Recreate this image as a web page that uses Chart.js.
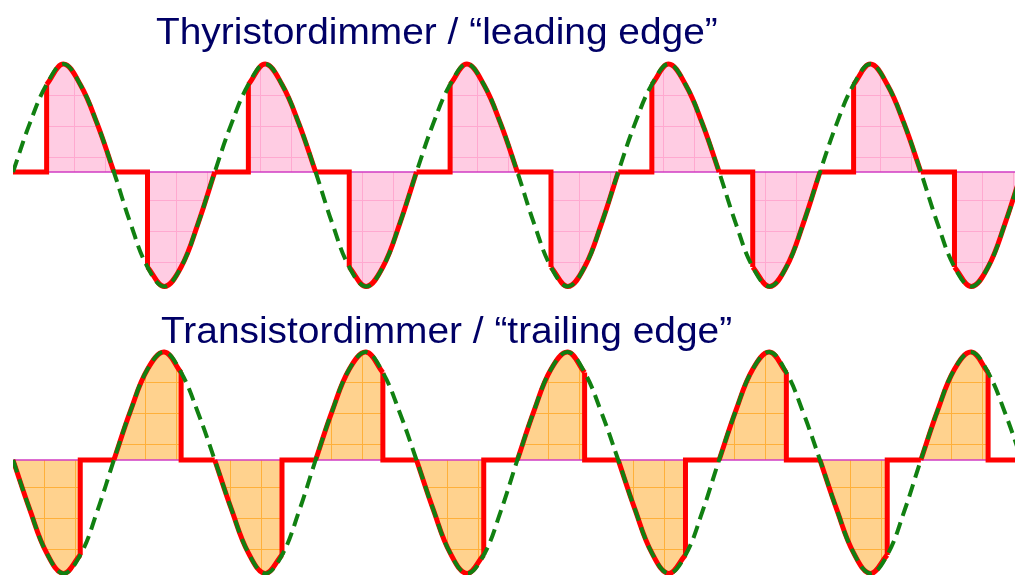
<!DOCTYPE html>
<html>
<head>
<meta charset="utf-8">
<script src="https://cdn.jsdelivr.net/npm/chart.js@4.4.1/dist/chart.umd.min.js"></script>
<style>
  body { margin: 0; background: #fff; }
  #wrap { position: relative; width: 1015px; height: 575px; overflow: hidden; }
  canvas { position: absolute; left: 0; }
  .title {
    position: absolute; margin: 0; white-space: pre;
    font-family: "Liberation Sans", Arial, sans-serif;
    font-size: 36px; line-height: 36px; color: #000066;
    transform: scaleX(1.08); transform-origin: 0 0;
  }
</style>
</head>
<body>
<div id="wrap">
  <canvas id="top" width="1015" height="300" style="top:0"></canvas>
  <canvas id="bottom" width="1015" height="275" style="top:300px"></canvas>
  <div class="title" style="left:156px; top:14px">Thyristordimmer / “leading edge”</div>
  <div class="title" style="left:161px; top:313px">Transistordimmer / “trailing edge”</div>
</div>
<script>
// phase angle in degrees (x axis)
const angles = [
  0, 30, 60, 90, 120, 150, 180, 210, 240, 270, 300, 330,
  360, 390, 420, 450, 480, 510, 540, 570, 600, 630, 660, 690,
  720, 750, 780, 810, 840, 870, 900, 930, 960, 990, 1020, 1050,
  1080, 1110, 1140, 1170, 1200, 1230, 1260, 1290, 1320, 1350, 1380, 1410,
  1440, 1470, 1500, 1530, 1560, 1590, 1620, 1650, 1680, 1710, 1740, 1770,
  1800
];

// mains voltage as drawn, top panel
const topWave = [
  0, 0.45, 0.81, 1.00, 0.81, 0.45, 0, -0.48, -0.88, -1.06, -0.88, -0.48,
  0, 0.45, 0.81, 1.00, 0.81, 0.45, 0, -0.48, -0.88, -1.06, -0.88, -0.48,
  0, 0.45, 0.81, 1.00, 0.81, 0.45, 0, -0.48, -0.88, -1.06, -0.88, -0.48,
  0, 0.45, 0.81, 1.00, 0.81, 0.45, 0, -0.48, -0.88, -1.06, -0.88, -0.48,
  0, 0.45, 0.81, 1.00, 0.81, 0.45, 0, -0.48, -0.88, -1.06, -0.88, -0.48,
  0
];

// mains voltage as drawn, bottom panel
const bottomWave = [
  0, -0.46, -0.86, -1.05, -0.88, -0.48, 0, 0.46, 0.84, 1.00, 0.81, 0.44,
  0, -0.46, -0.86, -1.05, -0.88, -0.48, 0, 0.46, 0.84, 1.00, 0.81, 0.44,
  0, -0.46, -0.86, -1.05, -0.88, -0.48, 0, 0.46, 0.84, 1.00, 0.81, 0.44,
  0, -0.46, -0.86, -1.05, -0.88, -0.48, 0, 0.46, 0.84, 1.00, 0.81, 0.44,
  0, -0.46, -0.86, -1.05, -0.88, -0.48, 0, 0.46, 0.84, 1.00, 0.81, 0.44,
  0
];

// conduction windows [on, off] in degrees
const leadingLobes = [
  [60, 180], [240, 360], [420, 540], [600, 720], [780, 900],
  [960, 1080], [1140, 1260], [1320, 1440], [1500, 1620], [1680, 1800]
];
const trailingLobes = [
  [0, 120], [180, 300], [360, 480], [540, 660], [720, 840],
  [900, 1020], [1080, 1200], [1260, 1380], [1440, 1560], [1620, 1740]
];

const xMax = 1788;

function makePattern(base, line, dx, dy) {
  const pc = document.createElement('canvas');
  pc.width = 31; pc.height = 31;
  const c = pc.getContext('2d');
  c.fillStyle = base;
  c.fillRect(0, 0, 31, 31);
  c.strokeStyle = line;
  c.lineWidth = 1;
  c.beginPath();
  c.moveTo(0.5, 0); c.lineTo(0.5, 31);
  c.moveTo(0, 0.5); c.lineTo(31, 0.5);
  c.stroke();
  const p = c.createPattern(pc, 'repeat');
  p.setTransform(new DOMMatrix([1, 0, 0, 1, dx, dy]));
  return p;
}

function panel(id, wave, lobes, above, below, yMin, yMax) {
  const val = a => wave[angles.indexOf(a)];
  const inLobe = a => lobes.some(l => a >= l[0] && a <= l[1]);

  const full = angles.map((a, i) => ({ x: a, y: wave[i] }));
  const on = angles.map((a, i) => ({ x: a, y: inLobe(a) ? wave[i] : null }));

  // off-state (zero) parts and the vertical switching edges
  const off = [];
  let last = 0;
  lobes.forEach(l => {
    off.push({ x: last, y: 0 }, { x: l[0], y: 0 }, { x: l[0], y: val(l[0]) }, { x: l[0], y: null });
    off.push({ x: l[1], y: val(l[1]) }, { x: l[1], y: 0 });
    last = l[1];
  });
  off.push({ x: angles[angles.length - 1], y: 0 });

  const base = [];
  lobes.forEach(l => base.push({ x: l[0], y: 0 }, { x: l[1], y: 0 }, { x: l[1], y: null }));

  new Chart(document.getElementById(id), {
    type: 'line',
    data: {
      datasets: [
        {
          data: full,
          borderColor: '#118011',
          borderWidth: 4,
          borderDash: [13, 7],
          tension: 0.4,
          fill: false,
        },
        {
          data: on,
          borderColor: '#ff0000',
          borderWidth: 5,
          tension: 0.4,
          fill: { target: 'origin', above: above, below: below },
        },
        {
          data: off,
          borderColor: '#ff0000',
          borderWidth: 5,
          tension: 0,
          borderJoinStyle: 'miter',
          fill: false,
        },
        {
          data: base,
          borderColor: '#d13cc4',
          borderWidth: 1.5,
          tension: 0,
          fill: false,
        },
      ],
    },
    options: {
      responsive: false,
      animation: false,
      devicePixelRatio: 1,
      layout: { padding: { left: 13, right: 0, top: 0, bottom: 0 } },
      elements: { point: { radius: 0, hoverRadius: 0 } },
      plugins: {
        legend: { display: false },
        tooltip: { enabled: false },
        filler: { drawTime: 'beforeDatasetsDraw' },
      },
      scales: {
        x: { type: 'linear', min: 0, max: xMax, display: false },
        y: { min: yMin, max: yMax, display: false },
      },
    },
  });
}

const pinkTop = makePattern('#ffcce3', '#ffa9d0', 12, 2);
const pinkBottom = makePattern('#ffcce3', '#ffa9d0', 21, 14);
const orangeTop = makePattern('#ffd28e', '#ffb03a', 21, 20);
const orangeBottom = makePattern('#ffd28e', '#ffb03a', 13, 1);

panel('top', topWave, leadingLobes, pinkTop, pinkBottom, -128 / 108, 172 / 108);
panel('bottom', bottomWave, trailingLobes, orangeTop, orangeBottom, -115 / 108, 160 / 108);
</script>
</body>
</html>
